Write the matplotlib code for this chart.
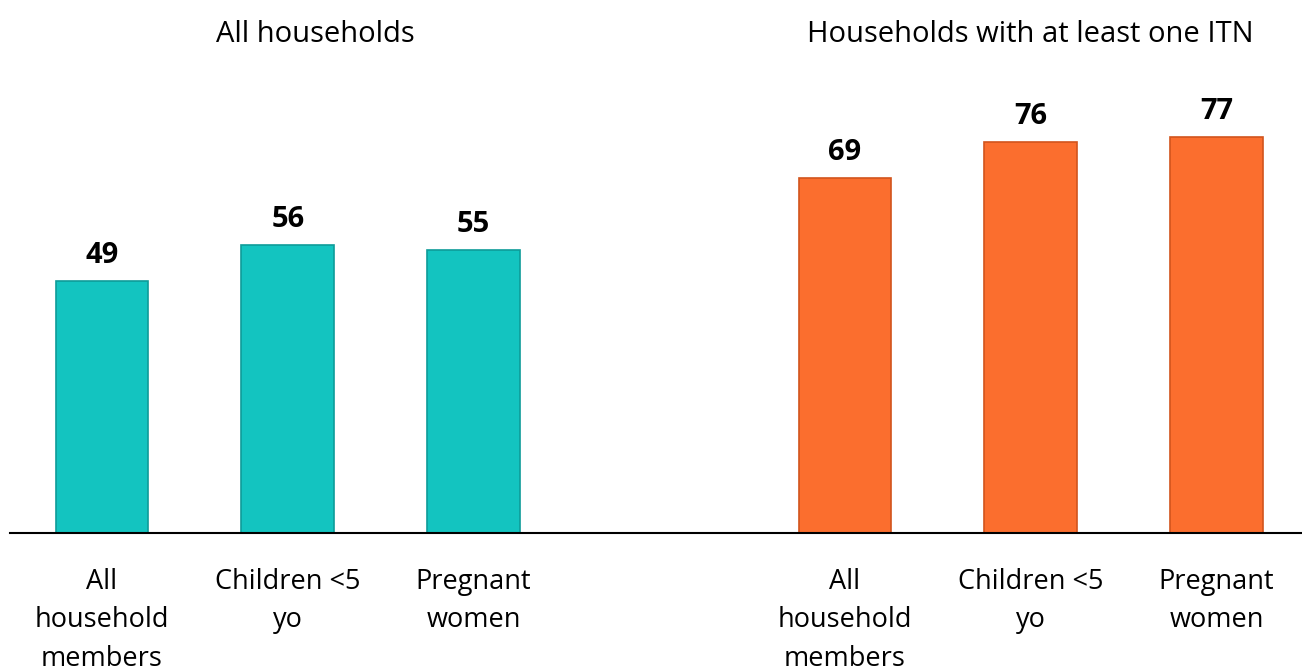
import numpy as np
import matplotlib.pyplot as plt

plt.rcParams['font.family'] = ['Open Sans', 'DejaVu Sans']

# ---- data ----
categories = ["All\nhousehold\nmembers", "Children <5\nyo", "Pregnant\nwomen"]
group_titles = ["All households", "Households with at least one ITN"]
all_hh = [49, 56, 55]
itn_hh = [69, 76, 77]
colors = ["#13C4C0", "#FB6E2E"]
edge_colors = ["#0E9C99", "#D2541C"]

fig = plt.figure(figsize=(13.02, 6.71), dpi=100)
ax = fig.add_axes([10 / 1302, 138 / 671, 1 - 10 / 1302, 514 / 671])

pos1 = np.arange(3)
pos2 = np.arange(3) + 4
for pos, vals, c, ec in [(pos1, all_hh, colors[0], edge_colors[0]),
                         (pos2, itn_hh, colors[1], edge_colors[1])]:
    bars = ax.bar(pos, vals, width=0.5, color=c, edgecolor=ec, linewidth=1.2, zorder=2)
    for b, v in zip(bars, vals):
        ax.annotate(f"{v}", (b.get_x() + b.get_width() / 2, v),
                    xytext=(0, 8), textcoords="offset points",
                    ha="center", va="bottom", fontsize=21, fontweight="bold")

ax.set_xlim(-0.495, 6.46)
ax.set_ylim(0, 100)

ax.set_xticks(list(pos1) + list(pos2))
ax.set_xticklabels(categories * 2, fontsize=19.5, linespacing=1.5)
ax.tick_params(axis="x", length=0, pad=25)
ax.set_yticks([])
for s in ["top", "right", "left"]:
    ax.spines[s].set_visible(False)
ax.spines["bottom"].set_linewidth(1.5)

# group titles
ax.text(1.15, 97, group_titles[0], ha="center", va="center", fontsize=21)
ax.text(5.0, 97, group_titles[1], ha="center", va="center", fontsize=21)

fig.savefig("out.png", dpi=100)
